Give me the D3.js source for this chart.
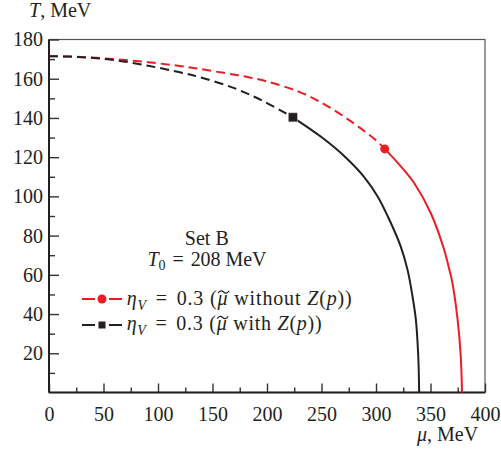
<!DOCTYPE html>
<html><head><meta charset="utf-8">
<script src="https://cdn.jsdelivr.net/npm/d3@7"></script>
<style>
body{margin:0;background:#fff;}
svg{display:block;font-family:"Liberation Serif","Times New Roman",serif;}
</style></head>
<body>
<svg id="c" width="501" height="451"></svg>
<script>
// data: [mu (MeV), T (MeV)]
const redDashed = [[0,171.5],[30,171.1],[60,170],[91,168.4],[120,166.5],[137,165.1],[160,163],[180,161.1],[200,158.6],[230,153.2],[255,146.2],[280,137.1],[300,128.6],[308,124.2]];
const redSolid = [[308,124.2],[322.8,115.3],[335,106.8],[350.3,91.4],[362.6,72.7],[367.4,62.4],[369.6,57.4],[374.9,37],[377.8,18],[378.9,0]];
const blackDashed = [[0,171.5],[30,171],[60,169.5],[91,166.6],[120,163.3],[137,161],[170,155.2],[198.6,148],[223.7,140.3]];
const blackSolid = [[223.7,140.3],[250.5,130],[272,120],[289,110],[301.5,100],[311,89.6],[322.8,74.3],[329,62.4],[333.2,50],[336.6,37],[338.8,18],[339.6,0]];
const redMarker = [308,124.2];
const blackMarker = [223.7,140.3];
const xMajor = [0,50,100,150,200,250,300,350,400];
const xMinor = [25,75,125,175,225,275,325,375];
const yMajor = [20,40,60,80,100,120,140,160,180];
const yMinor = [10,30,50,70,90,110,130,150,170];
const legendLabels = ["without", "with"];

const RED = "#ec1c24", BLK = "#231f20", TXT = "#231f20";
const FS = "20px";
const svg = d3.select("#c");
const L=49, R=485, T=39.5, B=392.5;
const x = d3.scaleLinear().domain([0,400]).range([L,R]);
const y = d3.scaleLinear().domain([0,180]).range([B,T]);

// frame
svg.append("rect").attr("x",L).attr("y",T).attr("width",R-L).attr("height",B-T)
  .attr("fill","none").attr("stroke","#555").attr("stroke-width",1.2);

function styleAxis(g){ g.select(".domain").remove(); g.selectAll("line").attr("stroke","#333").attr("stroke-width",1.4); g.selectAll("text").attr("fill",TXT).style("font-size","20px").style("font-family","Liberation Serif"); }
svg.append("g").attr("transform",`translate(0,${B})`)
  .call(d3.axisBottom(x).tickValues(xMajor).tickSize(-9).tickPadding(10).tickFormat(d3.format("d")))
  .call(styleAxis).call(g=>g.selectAll("text").attr("dy","0.9em"));
svg.append("g").attr("transform",`translate(0,${B})`)
  .call(d3.axisBottom(x).tickValues(xMinor).tickSize(-5).tickFormat(""))
  .call(styleAxis);
svg.append("g").attr("transform",`translate(${L},0)`)
  .call(d3.axisLeft(y).tickValues(yMajor).tickSize(-10).tickPadding(6).tickFormat(d3.format("d")))
  .call(styleAxis);
svg.append("g").attr("transform",`translate(${L},0)`)
  .call(d3.axisLeft(y).tickValues(yMinor).tickSize(-6).tickFormat(""))
  .call(styleAxis);
svg.append("line").attr("x1",L).attr("x2",L).attr("y1",T).attr("y2",B).attr("stroke",BLK).attr("stroke-width",2);
svg.append("line").attr("x1",L).attr("x2",R).attr("y1",B).attr("y2",B).attr("stroke",BLK).attr("stroke-width",2);

// axis titles
const yt = svg.append("text").attr("x",29).attr("y",17).attr("fill",TXT).style("font-size","20px");
yt.append("tspan").attr("font-style","italic").text("T");
yt.append("tspan").text(", MeV");
const xt = svg.append("text").attr("x",417).attr("y",441).attr("fill",TXT).style("font-size","20px");
xt.append("tspan").attr("font-style","italic").text("μ");
xt.append("tspan").text(", MeV");

// curves
const line = d3.line().x(d=>x(d[0])).y(d=>y(d[1])).curve(d3.curveCatmullRom.alpha(0.5));
const plot = svg.append("g");
plot.append("path").attr("d",line(redDashed)).attr("fill","none").attr("stroke",RED).attr("stroke-width",2).attr("stroke-dasharray","9,5");
plot.append("path").attr("d",line(blackDashed)).attr("fill","none").attr("stroke",BLK).attr("stroke-width",2).attr("stroke-dasharray","9,5");
plot.append("path").attr("d",line(redSolid)).attr("fill","none").attr("stroke",RED).attr("stroke-width",2);
plot.append("path").attr("d",line(blackSolid)).attr("fill","none").attr("stroke",BLK).attr("stroke-width",2);
plot.append("circle").attr("cx",x(redMarker[0])).attr("cy",y(redMarker[1])).attr("r",4.5).attr("fill",RED);
plot.append("rect").attr("x",x(blackMarker[0])-4.5).attr("y",y(blackMarker[1])-4.5).attr("width",9).attr("height",9).attr("fill",BLK).attr("stroke","#bbb").attr("stroke-width",0.6);

// annotation
svg.append("text").attr("x",206.8).attr("y",245).attr("text-anchor","middle").attr("fill",TXT).style("font-size",FS).text("Set B");
const t0 = svg.append("text").attr("x",147.5).attr("y",265.5).attr("fill",TXT).style("font-size",FS)
  .attr("textLength",119).attr("lengthAdjust","spacing");
t0.append("tspan").attr("font-style","italic").text("T");
t0.append("tspan").attr("dy",4).style("font-size","14px").text("0");
t0.append("tspan").attr("dy",-4).attr("dx",2).text(" = ");
t0.append("tspan").attr("dx",2).text("208 MeV");

// legend
const legColors = [RED, BLK];
const legWidths = [225, 195];
legendLabels.forEach((lab,i)=>{
  const ly = 299 + i*26;
  const by = 304.5 + i*25.5;
  const g = svg.append("g");
  g.append("line").attr("x1",82).attr("x2",95).attr("y1",ly).attr("y2",ly).attr("stroke",legColors[i]).attr("stroke-width",2);
  g.append("line").attr("x1",109).attr("x2",122).attr("y1",ly).attr("y2",ly).attr("stroke",legColors[i]).attr("stroke-width",2);
  if(i===0) g.append("circle").attr("cx",102).attr("cy",ly).attr("r",4.5).attr("fill",legColors[i]);
  else g.append("rect").attr("x",98.5).attr("y",ly-3.5).attr("width",7).attr("height",7).attr("fill",legColors[i]);
  const t = g.append("text").attr("x",126.7).attr("y",by).attr("fill",TXT).style("font-size",FS)
    .attr("textLength",legWidths[i]).attr("lengthAdjust","spacing");
  t.append("tspan").attr("font-style","italic").text("η");
  t.append("tspan").attr("font-style","italic").attr("dy",5).style("font-size","14px").text("V");
  t.append("tspan").attr("dy",-5).attr("dx",3).text(" = ");
  t.append("tspan").attr("dx",3).text("0.3 (");
  t.append("tspan").attr("font-style","italic").text("μ");
  t.append("tspan").text(" " + lab + " ");
  t.append("tspan").attr("font-style","italic").text("Z");
  t.append("tspan").text("(");
  t.append("tspan").attr("font-style","italic").text("p");
  t.append("tspan").text("))");
  // tilde accent over mu (char index 10)
  let tx = 212;
  try { const e = t.node().getExtentOfChar(10); tx = e.x + e.width/2 + 1; } catch(err) {}
  const tyy = by - 12.5;
  g.append("path").attr("d",`M${tx-5.5},${tyy+1.2} C${tx-3.5},${tyy-2.5} ${tx-1},${tyy-1} ${tx},${tyy} S${tx+3.5},${tyy+2.5} ${tx+5.5},${tyy-1.2}`)
    .attr("fill","none").attr("stroke",TXT).attr("stroke-width",1.1);
});
</script>
</body></html>
